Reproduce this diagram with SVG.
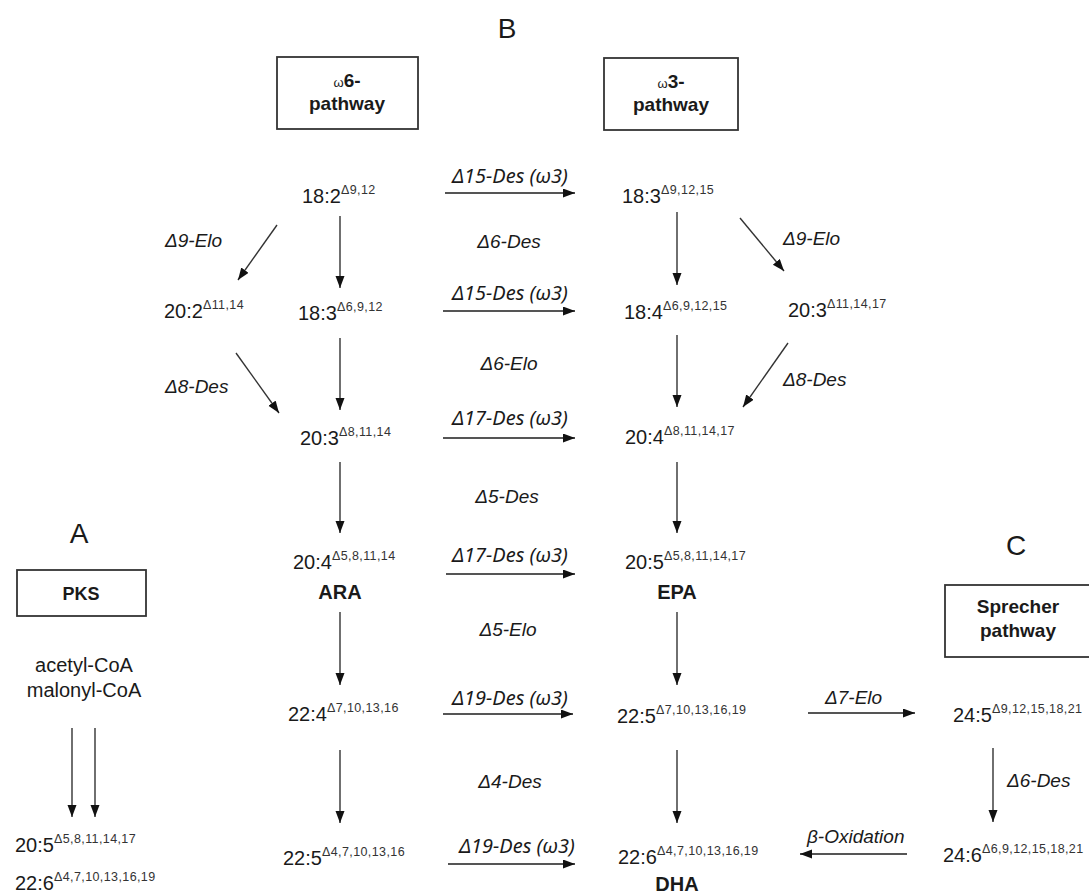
<svg xmlns="http://www.w3.org/2000/svg" width="1089" height="894" viewBox="0 0 1089 894">
<style>
text{font-family:"Liberation Sans",Arial,sans-serif;fill:#1a1a1a}
.fa{font-size:20px}
.sup{font-size:12.5px;letter-spacing:0.4px;fill:#333}
.lab{font-size:19px;font-style:italic}
.rx{font-family:"Noto Sans","Liberation Sans",sans-serif;font-size:20px;font-style:italic}
.bold{font-weight:bold}
.big{font-size:28px}
.box{fill:#fff;stroke:#333;stroke-width:1.8}
.ar{stroke:#333;stroke-width:1.4;fill:none;marker-end:url(#ah)}
.hz{stroke:#555;stroke-width:2}
</style>
<defs>
<marker id="ah" markerUnits="userSpaceOnUse" markerWidth="13" markerHeight="10" refX="12" refY="4.5" orient="auto">
<path d="M0,0 L12,4.5 L0,9 z" fill="#111"/>
</marker>
</defs>
<rect width="1089" height="894" fill="#fff"/>

<text class="big" x="507" y="38" text-anchor="middle">B</text>
<text class="big" x="79" y="543" text-anchor="middle">A</text>
<text class="big" x="1016" y="555" text-anchor="middle">C</text>

<g id="box-w6"><rect class="box" x="277" y="57" width="141" height="72"/>
<text x="347" y="87" text-anchor="middle" class="bold" font-size="19"><tspan font-weight="normal" font-size="13">ω</tspan>6-</text>
<text x="347" y="110" text-anchor="middle" class="bold" font-size="19">pathway</text></g>
<g id="box-w3"><rect class="box" x="604" y="58" width="134" height="72"/>
<text x="671" y="88" text-anchor="middle" class="bold" font-size="19"><tspan font-weight="normal" font-size="13">ω</tspan>3-</text>
<text x="671" y="111" text-anchor="middle" class="bold" font-size="19">pathway</text></g>
<g id="box-pks"><rect class="box" x="17" y="570" width="129" height="46"/>
<text x="81" y="600" text-anchor="middle" class="bold" font-size="18">PKS</text></g>
<g id="box-sprecher"><rect class="box" x="945" y="585" width="160" height="72"/>
<text x="1018" y="613" text-anchor="middle" class="bold" font-size="19">Sprecher</text>
<text x="1018" y="637" text-anchor="middle" class="bold" font-size="19">pathway</text></g>

<g id="n-18-2"><text class="fa" x="302" y="203">18:2<tspan class="sup" dy="-9">Δ9,12</tspan></text></g>
<g id="n-18-3w3"><text class="fa" x="622" y="203">18:3<tspan class="sup" dy="-9">Δ9,12,15</tspan></text></g>
<g id="n-20-2"><text class="fa" x="164" y="318">20:2<tspan class="sup" dy="-9">Δ11,14</tspan></text></g>
<g id="n-18-3"><text class="fa" x="298" y="320">18:3<tspan class="sup" dy="-9">Δ6,9,12</tspan></text></g>
<g id="n-18-4"><text class="fa" x="624" y="319">18:4<tspan class="sup" dy="-9">Δ6,9,12,15</tspan></text></g>
<g id="n-20-3w3"><text class="fa" x="788" y="317">20:3<tspan class="sup" dy="-9">Δ11,14,17</tspan></text></g>
<g id="n-20-3"><text class="fa" x="300" y="445">20:3<tspan class="sup" dy="-9">Δ8,11,14</tspan></text></g>
<g id="n-20-4w3"><text class="fa" x="625" y="444">20:4<tspan class="sup" dy="-9">Δ8,11,14,17</tspan></text></g>
<g id="n-ara"><text class="fa" x="293" y="569">20:4<tspan class="sup" dy="-9">Δ5,8,11,14</tspan></text>
<text class="fa bold" x="340" y="599" text-anchor="middle">ARA</text></g>
<g id="n-epa"><text class="fa" x="625" y="569">20:5<tspan class="sup" dy="-9">Δ5,8,11,14,17</tspan></text>
<text class="fa bold" x="677" y="599" text-anchor="middle">EPA</text></g>
<g id="n-pks-src"><text class="fa" x="84" y="672" text-anchor="middle" font-size="19">acetyl-CoA</text>
<text class="fa" x="84" y="697" text-anchor="middle" font-size="19">malonyl-CoA</text></g>
<g id="n-22-4"><text class="fa" x="288" y="721">22:4<tspan class="sup" dy="-9">Δ7,10,13,16</tspan></text></g>
<g id="n-22-5w3"><text class="fa" x="617" y="723">22:5<tspan class="sup" dy="-9">Δ7,10,13,16,19</tspan></text></g>
<g id="n-24-5"><text class="fa" x="953" y="722">24:5<tspan class="sup" dy="-9">Δ9,12,15,18,21</tspan></text></g>
<g id="n-22-5"><text class="fa" x="283" y="865">22:5<tspan class="sup" dy="-9">Δ4,7,10,13,16</tspan></text></g>
<g id="n-dha"><text class="fa" x="618" y="864">22:6<tspan class="sup" dy="-9">Δ4,7,10,13,16,19</tspan></text>
<text class="fa bold" x="677" y="891" text-anchor="middle">DHA</text></g>
<g id="n-24-6"><text class="fa" x="943" y="862">24:6<tspan class="sup" dy="-9">Δ6,9,12,15,18,21</tspan></text></g>
<g id="n-pks-20-5"><text class="fa" x="15" y="852">20:5<tspan class="sup" dy="-9">Δ5,8,11,14,17</tspan></text></g>
<g id="n-pks-22-6"><text class="fa" x="15" y="890">22:6<tspan class="sup" dy="-9">Δ4,7,10,13,16,19</tspan></text></g>

<g id="labels">
<text class="rx" x="510" y="183" text-anchor="middle">Δ15-Des (ω3)</text>
<text class="rx" x="510" y="300" text-anchor="middle">Δ15-Des (ω3)</text>
<text class="rx" x="510" y="425" text-anchor="middle">Δ17-Des (ω3)</text>
<text class="rx" x="510" y="562" text-anchor="middle">Δ17-Des (ω3)</text>
<text class="rx" x="510" y="705" text-anchor="middle">Δ19-Des (ω3)</text>
<text class="rx" x="517" y="853" text-anchor="middle">Δ19-Des (ω3)</text>
<text class="lab" x="509" y="248" text-anchor="middle">Δ6-Des</text>
<text class="lab" x="509" y="370" text-anchor="middle">Δ6-Elo</text>
<text class="lab" x="507" y="503" text-anchor="middle">Δ5-Des</text>
<text class="lab" x="508" y="636" text-anchor="middle">Δ5-Elo</text>
<text class="lab" x="510" y="788" text-anchor="middle">Δ4-Des</text>
<text class="lab" x="165" y="247">Δ9-Elo</text>
<text class="lab" x="165" y="393">Δ8-Des</text>
<text class="lab" x="783" y="245">Δ9-Elo</text>
<text class="lab" x="783" y="386">Δ8-Des</text>
<text class="lab" x="825" y="704">Δ7-Elo</text>
<text class="lab" x="1007" y="787">Δ6-Des</text>
<text class="lab" x="807" y="843">β-Oxidation</text>
</g>

<g id="connectors">
<line class="ar hz" x1="445" y1="193" x2="575" y2="193"/>
<line class="ar hz" x1="443" y1="311" x2="575" y2="311"/>
<line class="ar hz" x1="443" y1="438" x2="575" y2="438"/>
<line class="ar hz" x1="446" y1="574" x2="575" y2="574"/>
<line class="ar hz" x1="443" y1="714" x2="573" y2="714"/>
<line class="ar hz" x1="448" y1="864" x2="575" y2="864"/>
<line class="ar" x1="340" y1="216" x2="340" y2="288"/>
<line class="ar" x1="340" y1="338" x2="340" y2="410"/>
<line class="ar" x1="340" y1="462" x2="340" y2="533"/>
<line class="ar" x1="340" y1="612" x2="340" y2="685"/>
<line class="ar" x1="340" y1="750" x2="340" y2="823"/>
<line class="ar" x1="677" y1="212" x2="677" y2="285"/>
<line class="ar" x1="677" y1="335" x2="677" y2="407"/>
<line class="ar" x1="677" y1="462" x2="677" y2="533"/>
<line class="ar" x1="677" y1="612" x2="677" y2="685"/>
<line class="ar" x1="677" y1="750" x2="677" y2="823"/>
<line class="ar" x1="277" y1="225" x2="238" y2="280"/>
<line class="ar" x1="236" y1="353" x2="279" y2="413"/>
<line class="ar" x1="740" y1="218" x2="784" y2="271"/>
<line class="ar" x1="788" y1="343" x2="743" y2="407"/>
<line class="ar hz" x1="808" y1="713" x2="915" y2="713"/>
<line class="ar" x1="993" y1="748" x2="993" y2="822"/>
<line class="ar hz" x1="907" y1="854" x2="800" y2="854"/>
<line class="ar" x1="72" y1="728" x2="72" y2="817" stroke-width="2.2"/>
<line class="ar" x1="95" y1="728" x2="95" y2="817"/>
</g>
</svg>
